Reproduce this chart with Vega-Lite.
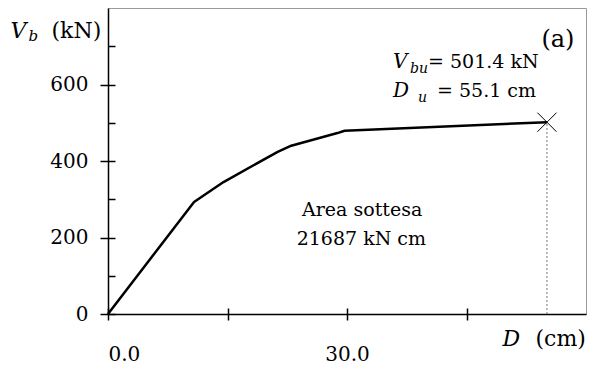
{
  "$schema": "https://vega.github.io/schema/vega-lite/v6.json",
  "width": 478,
  "height": 306,
  "autosize": "none",
  "padding": {"left": 108, "top": 8, "right": 8, "bottom": 53},
  "background": "white",
  "config": {
    "view": {"stroke": "#9a9a9a", "strokeWidth": 1},
    "text": {"font": "DejaVu Serif"},
    "axis": {
      "grid": false,
      "labelFont": "DejaVu Serif",
      "labelFontSize": 20,
      "labelColor": "black",
      "titleFont": "DejaVu Serif",
      "titleFontSize": 22,
      "titleFontWeight": "normal",
      "titleColor": "black",
      "domainColor": "black",
      "tickColor": "black",
      "domainWidth": 1.5,
      "tickWidth": 1.5
    }
  },
  "resolve": {"axis": {"x": "independent", "y": "independent"}},
  "layer": [
    {
      "data": {"values": [
        {"D": 0, "V": 0},
        {"D": 10.8, "V": 293},
        {"D": 14.5, "V": 345},
        {"D": 21.3, "V": 424},
        {"D": 23.0, "V": 440},
        {"D": 28.8, "V": 473},
        {"D": 29.7, "V": 479},
        {"D": 55.1, "V": 501.4}
      ]},
      "mark": {"type": "line", "color": "black", "strokeWidth": 2.5, "strokeJoin": "round"},
      "encoding": {
        "x": {"field": "D", "type": "quantitative", "scale": {"domain": [0, 60], "nice": false, "zero": false},
          "axis": {"orient": "bottom", "values": [0, 15, 30, 45], "tickSize": 6, "labelPadding": 40, "labelBaseline": "alphabetic",
            "labelExpr": "datum.value % 30 === 0 ? format(datum.value, '.1f') : ''",
            "title": "(cm)", "titleX": 427, "titleY": 31, "titleAlign": "left", "titleBaseline": "alphabetic", "titleAnchor": null}},
        "y": {"field": "V", "type": "quantitative", "scale": {"domain": [0, 800], "nice": false},
          "axis": {"orient": "left", "values": [0, 200, 400, 600], "tickSize": 8, "labelPadding": 12,
            "title": "(kN)", "titleAngle": 0, "titleX": -57, "titleY": 29, "titleAlign": "left", "titleBaseline": "alphabetic", "titleAnchor": null}}
      }
    },
    {
      "data": {"values": [{"D": 55.1, "V": 501.4, "V0": 0}]},
      "mark": {"type": "rule", "color": "#777777", "strokeWidth": 1, "strokeDash": [2, 2]},
      "encoding": {
        "x": {"field": "D", "type": "quantitative",
          "axis": {"orient": "bottom", "values": [0, 15, 30, 45], "tickSize": -6, "labels": false, "domain": false,
            "title": "D", "titleFontStyle": "italic", "titleX": 394, "titleY": 31, "titleAlign": "left", "titleBaseline": "alphabetic", "titleAnchor": null}},
        "y": {"field": "V0", "type": "quantitative",
          "axis": {"orient": "left", "values": [0, 100, 200, 300, 400, 500, 600, 700], "tickSize": -7, "labels": false, "domain": false,
            "title": "V", "titleFontStyle": "italic", "titleAngle": 0, "titleX": -98, "titleY": 29, "titleAlign": "left", "titleBaseline": "alphabetic", "titleAnchor": null}},
        "y2": {"field": "V"}
      }
    },
    {
      "data": {"values": [{"D": 55.1, "V": 501.4}]},
      "mark": {"type": "point", "shape": "M-1,-1L1,1M1,-1L-1,1", "size": 361, "filled": false, "color": "black", "strokeWidth": 1, "opacity": 1},
      "encoding": {
        "x": {"field": "D", "type": "quantitative", "axis": null},
        "y": {"field": "V", "type": "quantitative",
          "axis": {"orient": "left", "ticks": false, "labels": false, "domain": false,
            "title": "b", "titleFontStyle": "italic", "titleFontSize": 15, "titleAngle": 0, "titleX": -80, "titleY": 32, "titleAlign": "left", "titleBaseline": "alphabetic", "titleAnchor": null}}
      }
    },
    {
      "data": {"values": [
        {"x": 35.77, "y": 643, "t": "V"},
        {"x": 35.77, "y": 567, "t": "D"}
      ]},
      "mark": {"type": "text", "fontStyle": "italic", "fontSize": 20, "align": "left", "baseline": "alphabetic", "color": "black"},
      "encoding": {
        "x": {"field": "x", "type": "quantitative", "axis": null},
        "y": {"field": "y", "type": "quantitative", "axis": null},
        "text": {"field": "t"}
      }
    },
    {
      "data": {"values": [
        {"x": 37.9, "y": 630, "t": "bu"},
        {"x": 38.91, "y": 554, "t": "u"}
      ]},
      "mark": {"type": "text", "fontStyle": "italic", "fontSize": 14, "align": "left", "baseline": "alphabetic", "color": "black"},
      "encoding": {
        "x": {"field": "x", "type": "quantitative", "axis": null},
        "y": {"field": "y", "type": "quantitative", "axis": null},
        "text": {"field": "t"}
      }
    },
    {
      "data": {"values": [
        {"x": 40.17, "y": 643, "t": "= 501.4 kN"},
        {"x": 41.3, "y": 567, "t": "= 55.1 cm"}
      ]},
      "mark": {"type": "text", "fontSize": 19, "align": "left", "baseline": "alphabetic", "color": "black"},
      "encoding": {
        "x": {"field": "x", "type": "quantitative", "axis": null},
        "y": {"field": "y", "type": "quantitative", "axis": null},
        "text": {"field": "t"}
      }
    },
    {
      "data": {"values": [
        {"x": 31.9, "y": 256, "t": "Area sottesa"},
        {"x": 31.8, "y": 180, "t": "21687 kN cm"}
      ]},
      "mark": {"type": "text", "fontSize": 19, "align": "center", "baseline": "alphabetic", "color": "black"},
      "encoding": {
        "x": {"field": "x", "type": "quantitative", "axis": null},
        "y": {"field": "y", "type": "quantitative", "axis": null},
        "text": {"field": "t"}
      }
    },
    {
      "data": {"values": [
        {"x": 54.4, "y": 698, "t": "(a)"}
      ]},
      "mark": {"type": "text", "fontSize": 24, "align": "left", "baseline": "alphabetic", "color": "black"},
      "encoding": {
        "x": {"field": "x", "type": "quantitative", "axis": null},
        "y": {"field": "y", "type": "quantitative", "axis": null},
        "text": {"field": "t"}
      }
    }
  ]
}
